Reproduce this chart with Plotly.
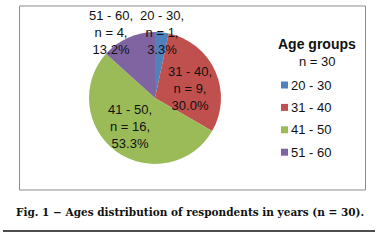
import plotly.graph_objects as go

categories = ["20 - 30", "31 - 40", "41 - 50", "51 - 60"]
counts = [1, 9, 16, 4]
percent_labels = ["3.3%", "30.0%", "53.3%", "13.2%"]
colors = ["#4F81BD", "#C0504D", "#9BBB59", "#8064A2"]
total_n = 30
legend_title = "Age groups"
caption = "Fig. 1 \u2212 Ages distribution of respondents in years (n = 30)."

W, H = 378, 240
def px(x): return x / W
def py(y): return 1 - y / H

SANS = "Liberation Sans, Arial"
texts = [f"{c},<br>n = {n},<br>{p}" for c, n, p in zip(categories, counts, percent_labels)]

fig = go.Figure(go.Pie(
    labels=categories, values=counts, sort=False, direction="clockwise", rotation=0,
    marker=dict(colors=colors, line=dict(color="white", width=0)),
    textinfo="none",
    domain=dict(x=[px(89), px(221)], y=[py(164), py(32)]),
    hoverinfo="none", showlegend=False,
))

# data labels (centre of the middle line)
label_pos = {"20 - 30": (162, 33), "31 - 40": (190, 88), "41 - 50": (130, 126), "51 - 60": (111, 33)}
for t, c in zip(texts, categories):
    x, y = label_pos[c]
    fig.add_annotation(x=px(x), y=py(y), xref="paper", yref="paper",
                       text=t, showarrow=False, xanchor="center", yanchor="middle",
                       font=dict(family=SANS, size=13, color="#111"))

# legend (title + items)
fig.add_annotation(x=px(317), y=py(44), xref="paper", yref="paper", text=f"<b>{legend_title}</b>",
                   showarrow=False, xanchor="center", yanchor="middle",
                   font=dict(family=SANS, size=14, color="#111"))
fig.add_annotation(x=px(317), y=py(61), xref="paper", yref="paper", text=f"n = {total_n}",
                   showarrow=False, xanchor="center", yanchor="middle",
                   font=dict(family=SANS, size=13, color="#111"))
for i, (c, col) in enumerate(zip(categories, colors)):
    yc = 85 + i * 22.4
    fig.add_shape(type="rect", xref="paper", yref="paper", x0=px(281), x1=px(288),
                  y0=py(yc + 3.5), y1=py(yc - 3.5), line=dict(width=0), fillcolor=col)
    fig.add_annotation(x=px(289), y=py(yc), xref="paper", yref="paper", text=c,
                       showarrow=False, xanchor="left", yanchor="middle",
                       font=dict(family=SANS, size=13, color="#111"))

# chart border
fig.add_shape(type="rect", xref="paper", yref="paper", x0=px(19.5), x1=px(365.5), y0=py(190), y1=py(6),
              line=dict(color="#8C8C8C", width=1))
# caption
fig.add_annotation(x=px(190), y=py(212), xref="paper", yref="paper", text=f"<b>{caption}</b>",
                   showarrow=False, xanchor="center", yanchor="middle",
                   font=dict(family="DejaVu Serif", size=10.5, color="#111"))
fig.add_shape(type="line", xref="paper", yref="paper", x0=px(3), x1=px(375), y0=py(231), y1=py(231),
              line=dict(color="#111", width=1.3))

fig.update_layout(
    width=W, height=H, margin=dict(l=0, r=0, t=0, b=0),
    paper_bgcolor="white", plot_bgcolor="white",
)
fig.write_html("out.html", config={"displayModeBar": False, "staticPlot": True},
               post_script="document.body.style.margin='0';document.body.style.overflow='hidden';")
